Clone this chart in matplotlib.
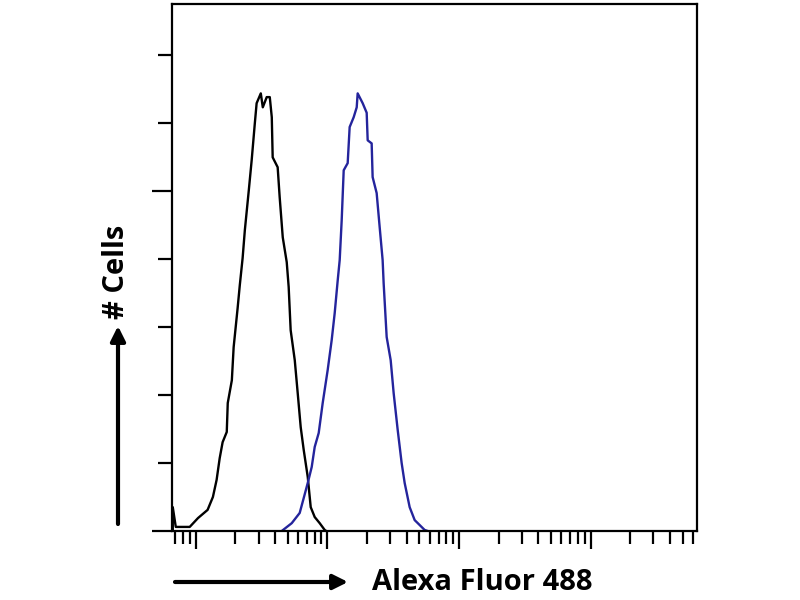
import numpy as np
import matplotlib.pyplot as plt
from matplotlib.ticker import LogLocator, NullFormatter, FixedLocator

# isotype control (black) histogram
ctrl_x = [6.69, 6.69, 7.05, 7.56, 9.0, 10.4, 12.3, 13.5, 14.4, 15.2, 16.0, 17.2, 17.5,
          18.8, 19.4, 20.8, 21.6, 22.7, 23.6, 25.3, 26.6, 28.1, 29.0, 31.2, 32.3, 34.6,
          36.5, 37.8, 38.4, 41.9, 43.4, 45.8, 49.1, 50.8, 52.6, 56.5, 59.5, 62.7, 66.1,
          70.9, 74.7, 80.1, 87.4, 95.4, 98.0]
ctrl_y = [0.0, 7.0, 1.2, 1.2, 1.2, 3.8, 6.2, 10.0, 15.0, 21.4, 26.1, 29.1, 37.6,
          44.3, 54.0, 65.5, 72.2, 80.2, 88.4, 100.2, 109.0, 119.8, 125.7, 128.6, 124.5, 127.5,
          127.5, 121.6, 109.8, 106.9, 98.1, 86.3, 79.0, 71.7, 59.0, 50.2, 40.5, 30.5, 23.8,
          15.9, 7.0, 4.1, 2.3, 0.3, 0.0]

# stained sample (blue) histogram
stain_x = [45.0, 53.6, 61.6, 66.1, 70.9, 76.0, 80.1, 85.9, 92.1, 100.5, 107.8, 113.6,
           119.8, 124.0, 128.4, 133.0, 142.6, 147.6, 158.4, 167.0, 169.8, 185.4, 198.8,
           202.3, 216.9, 220.6, 236.7, 249.5, 262.8, 267.5, 282.0, 302.5, 318.7, 342.0,
           366.4, 386.4, 421.7, 460.3, 548.1, 577.6]
stain_y = [0.0, 2.3, 5.3, 9.7, 14.1, 18.8, 24.7, 28.8, 37.6, 47.3, 56.1, 64.0,
           73.7, 79.6, 91.3, 106.0, 108.1, 118.7, 121.6, 124.5, 128.6, 125.7, 122.9,
           114.8, 113.9, 104.0, 99.3, 89.3, 79.6, 72.8, 57.0, 50.2, 40.5, 29.7,
           20.0, 14.1, 7.0, 3.2, 0.3, 0.0]

y_major = [0, 100]
y_minor = [20, 40, 60, 80, 120, 140]

plt.rcParams['font.family'] = ['Open Sans', 'DejaVu Sans']

fig = plt.figure(figsize=(8, 6), dpi=100)
ax = fig.add_axes([0.215, 0.115, 0.656, 0.878])

ax.plot(ctrl_x, ctrl_y, color='black', lw=1.7)
ax.plot(stain_x, stain_y, color='#24249c', lw=1.7)

ax.set_xscale('log')
ax.set_xlim(6.6, 6.4e4)
ax.set_ylim(0, 154.8)

ax.xaxis.set_major_locator(LogLocator(base=10, numticks=10))
ax.xaxis.set_minor_locator(LogLocator(base=10, subs=np.arange(2, 10), numticks=20))
ax.xaxis.set_major_formatter(NullFormatter())
ax.xaxis.set_minor_formatter(NullFormatter())
ax.yaxis.set_major_locator(FixedLocator(y_major))
ax.yaxis.set_minor_locator(FixedLocator(y_minor))
ax.yaxis.set_major_formatter(NullFormatter())
ax.yaxis.set_minor_formatter(NullFormatter())

ax.tick_params(axis='x', which='major', direction='out', length=13, width=1.6)
ax.tick_params(axis='x', which='minor', direction='out', length=9.5, width=1.6)
ax.tick_params(axis='y', which='major', direction='out', length=14.5, width=1.6)
ax.tick_params(axis='y', which='minor', direction='out', length=10, width=1.6)
for s in ax.spines.values():
    s.set_linewidth(1.6)

# axis labels with arrows
fig.text(593 / 800, 1 - 583 / 600, 'Alexa Fluor 488', ha='right', va='center',
         fontsize=21, fontweight='bold')
fig.text(117 / 800, 1 - 272 / 600, '# Cells', ha='center', va='center',
         rotation=90, fontsize=21, fontweight='bold')
ax.annotate('', xy=(348, 600 - 582), xytext=(175, 600 - 582), xycoords='figure pixels',
            arrowprops=dict(arrowstyle='-|>', lw=3, color='black', mutation_scale=22,
                            shrinkA=0, shrinkB=0))
ax.annotate('', xy=(118, 600 - 326), xytext=(118, 600 - 524), xycoords='figure pixels',
            arrowprops=dict(arrowstyle='-|>', lw=3, color='black', mutation_scale=22,
                            shrinkA=0, shrinkB=0))

fig.savefig('out.png', dpi=100)
